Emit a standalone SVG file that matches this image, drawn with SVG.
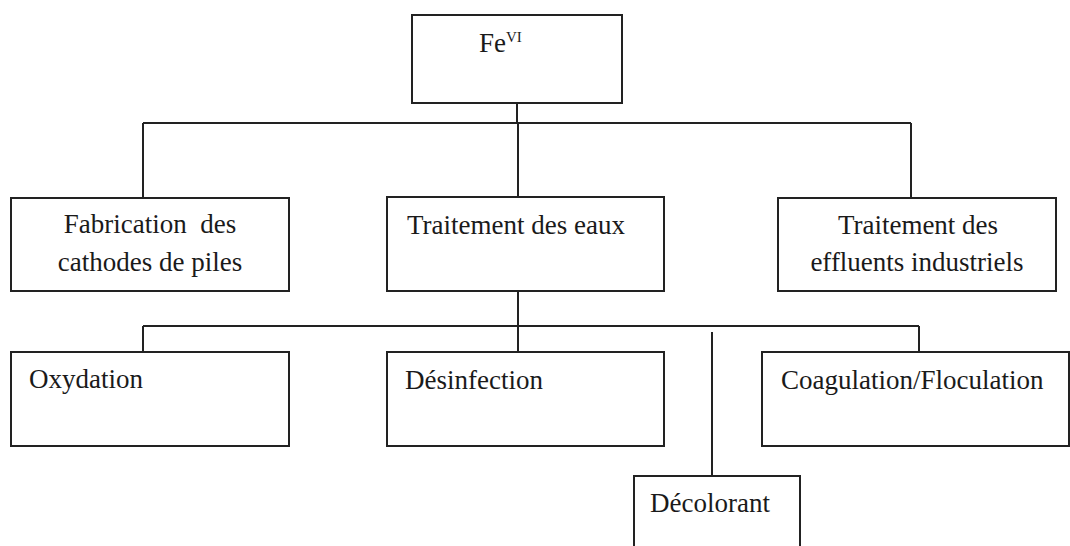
<svg xmlns="http://www.w3.org/2000/svg" width="1070" height="546" viewBox="0 0 1070 546">
<style>
.box{fill:#fff;stroke:#222;stroke-width:2}
.ln{fill:none;stroke:#222;stroke-width:2}
.t{font-family:"Liberation Serif","Times New Roman",serif;font-size:27px;fill:#1a1a1a}
.c{text-anchor:middle}
</style>
<rect width="1070" height="546" fill="#fff"/>
<g id="connectors">
<path class="ln" d="M517,103 V123 M143,123 H911 M143,123 V198 M518,123 V197 M911,123 V198"/>
<path class="ln" d="M518,291 V326 M143,326 H919 M143,326 V352 M518,326 V352 M919,326 V352 M712,332 V476"/>
</g>
<g id="n-fe">
<rect class="box" x="412" y="15" width="210" height="88"/>
<text class="t" x="479" y="52" font-size="28">Fe<tspan font-size="15" dy="-10">VI</tspan></text>
</g>
<g id="n-fabrication">
<rect class="box" x="11" y="198" width="278" height="93"/>
<text class="t c" x="150" y="233" xml:space="preserve">Fabrication  des</text>
<text class="t c" x="150" y="271">cathodes de piles</text>
</g>
<g id="n-traitement-eaux">
<rect class="box" x="387" y="197" width="277" height="94"/>
<text class="t" x="407" y="234">Traitement des eaux</text>
</g>
<g id="n-effluents">
<rect class="box" x="778" y="198" width="278" height="93"/>
<text class="t c" x="918" y="234">Traitement des</text>
<text class="t c" x="917" y="271">effluents industriels</text>
</g>
<g id="n-oxydation">
<rect class="box" x="11" y="352" width="278" height="94"/>
<text class="t" x="29" y="388">Oxydation</text>
</g>
<g id="n-desinfection">
<rect class="box" x="387" y="352" width="277" height="94"/>
<text class="t" x="405" y="389">Désinfection</text>
</g>
<g id="n-coagulation">
<rect class="box" x="762" y="352" width="307" height="94"/>
<text class="t" x="781" y="389">Coagulation/Floculation</text>
</g>
<g id="n-decolorant">
<rect class="box" x="634" y="476" width="166" height="80"/>
<text class="t" x="650" y="512">Décolorant</text>
</g>
</svg>
